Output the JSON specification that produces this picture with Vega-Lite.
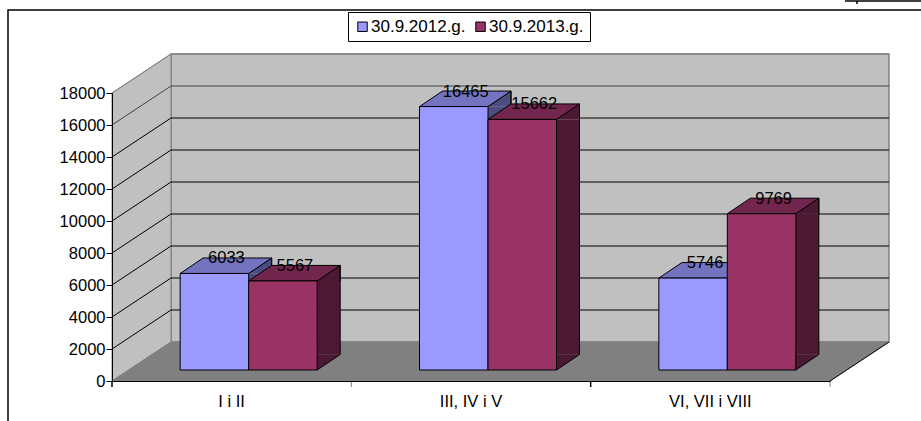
{
"$schema":"https://vega.github.io/schema/vega-lite/v6.json",
"width":718,"height":288,
"autosize":{"type":"none"},
"padding":{"left":112,"top":93,"right":91,"bottom":40},
"background":"#ffffff",
"config":{"view":{"stroke":null},"font":"Liberation Sans"},
"resolve":{"scale":{"xOffset":"independent"},"axis":{"y":"independent"}},
"datasets":{
"bars":[
{"category":"I i II","series":"30.9.2012.g.","value":6033},
{"category":"I i II","series":"30.9.2013.g.","value":5567},
{"category":"III, IV i V","series":"30.9.2012.g.","value":16465},
{"category":"III, IV i V","series":"30.9.2013.g.","value":15662},
{"category":"VI, VII i VIII","series":"30.9.2012.g.","value":5746},
{"category":"VI, VII i VIII","series":"30.9.2013.g.","value":9769}],
"ticks":[{"tick":0},{"tick":2000},{"tick":4000},{"tick":6000},{"tick":8000},{"tick":10000},{"tick":12000},{"tick":14000},{"tick":16000},{"tick":18000}],
"base":[{"value":0}]
},
"layer":[
{"data":{"name":"base"},"mark":{"type":"point","size":4,"opacity":1,"filled":true,"fill":"#c0c0c0","stroke":"#808080","strokeWidth":1.5,"shape":"M59,-39 L777,-39 L777,-327 L59,-327 Z"},
 "encoding":{"x":{"value":0},"y":{"field":"value","type":"quantitative","title":null,"scale":{"domain":[0,18000],"nice":false},
   "axis":{"zindex":1,"values":[0,2000,4000,6000,8000,10000,12000,14000,16000,18000],"format":"d","grid":false,"labelOverlap":false,"labelBound":false,"labelFlush":false,"labelFontSize":16.5,"labelColor":"#000000","labelPadding":1,"domainColor":"#000000","tickColor":"#000000","tickSize":6}}}},
{"data":{"name":"base"},"mark":{"type":"point","size":4,"opacity":1,"filled":true,"fill":"#c0c0c0","stroke":"#808080","strokeWidth":1,"shape":"M0,0 L59,-39 L59,-327 L0,-288 Z"},
 "encoding":{"x":{"value":0},"y":{"field":"value","type":"quantitative","axis":null}}},
{"data":{"name":"base"},"mark":{"type":"point","size":4,"opacity":1,"filled":true,"fill":"#808080","stroke":"#808080","strokeWidth":1,"shape":"M0,0 L59,-39 L777,-39 L718,0 Z"},
 "encoding":{"x":{"value":0},"y":{"field":"value","type":"quantitative","axis":null}}},
{"data":{"name":"base"},"mark":{"type":"point","size":4,"opacity":1,"filled":false,"stroke":"#000000","strokeWidth":1,"shape":"M718,0 L777,-39"},
 "encoding":{"x":{"value":0},"y":{"field":"value","type":"quantitative","axis":null}}},
{"data":{"name":"base"},"mark":{"type":"point","size":4,"opacity":1,"filled":false,"stroke":"#000000","strokeWidth":1.5,"shape":"M-104,40 L-104,-371 L809,-371 M733,-380 L809,-380 M745,-380 L745,-377 M0,0 L0,6 M478.67,0 L478.67,6"},
 "encoding":{"x":{"value":0},"y":{"field":"value","type":"quantitative","axis":null}}},
{"data":{"name":"base"},"mark":{"type":"point","size":4,"opacity":1,"filled":false,"stroke":"#808080","strokeWidth":1,"shape":"M718,0 L718,6 M239.33,0 L239.33,6"},
 "encoding":{"x":{"value":0},"y":{"field":"value","type":"quantitative","axis":null}}},
{"data":{"name":"ticks"},"transform":[{"filter":"datum.tick > 0"}],"mark":{"type":"point","size":4,"opacity":1,"filled":false,"strokeWidth":1,"shape":"M0,0 L59,-39 L777,-39"},
 "encoding":{"x":{"value":0},"y":{"field":"tick","type":"quantitative","axis":null},
  "stroke":{"condition":[{"test":"datum.tick==18000","value":"#808080"},{"test":"datum.tick==16000","value":"#404040"}],"value":"#000000"}}},
{"data":{"name":"bars"},"mark":{"type":"bar","size":23,"yOffset":-11,"y2Offset":-26.5,"stroke":null},
 "encoding":{"x":{"field":"category","type":"nominal","sort":null,"title":null,
   "scale":{"paddingInner":0.4276,"paddingOuter":0.2138},
   "axis":{"zindex":1,"labelAngle":0,"labelAlign":"center","labelBaseline":"top","labelFontSize":16.5,"labelColor":"#000000","labelPadding":12,"domainColor":"#000000","ticks":false}},
  "xOffset":{"field":"series","scale":{"range":[62.75,199.75]}},"y":{"field":"value","type":"quantitative","axis":null},"y2":{"datum":0},
  "fill":{"condition":{"test":"datum.series==='30.9.2012.g.'","value":"#4c4c7f"},"value":"#4c1933"}}},
{"data":{"name":"bars"},"mark":{"type":"point","size":4,"opacity":1,"filled":true,"stroke":"#000000","strokeWidth":1,"yOffset":-11,"shape":"M34.25,0 L57.25,-15.5 L57.25,0"},
 "encoding":{"x":{"field":"category","type":"nominal"},"xOffset":{"field":"series","scale":{"range":[17,154]}},"y":{"field":"value","type":"quantitative","axis":null},
  "fill":{"condition":{"test":"datum.series==='30.9.2012.g.'","value":"#4c4c7f"},"value":"#4c1933"}}},
{"data":{"name":"bars"},"mark":{"type":"point","size":4,"opacity":1,"filled":true,"stroke":"#000000","strokeWidth":1,"yOffset":-11,"shape":"M57.25,-15.5 L34.25,0 L34.25,-15.5"},
 "encoding":{"x":{"field":"category","type":"nominal"},"xOffset":{"field":"series","scale":{"range":[17,154]}},"y":{"datum":0,"axis":null},
  "fill":{"condition":{"test":"datum.series==='30.9.2012.g.'","value":"#4c4c7f"},"value":"#4c1933"}}},
{"data":{"name":"bars"},"mark":{"type":"rule","stroke":"#000000","strokeWidth":1,"yOffset":-26.5,"y2Offset":-26.5},
 "encoding":{"x":{"field":"category","type":"nominal"},"xOffset":{"field":"series","scale":{"range":[74.25,211.25]}},"y":{"field":"value","type":"quantitative","axis":null},"y2":{"datum":0}}},
{"data":{"name":"bars"},"mark":{"type":"point","size":4,"opacity":1,"filled":true,"stroke":"#000000","strokeWidth":1,"yOffset":-11,"shape":"M-34.25,0 L34.25,0 L57.25,-15.5 L-11.25,-15.5 Z"},
 "encoding":{"x":{"field":"category","type":"nominal"},"xOffset":{"field":"series","scale":{"range":[17,154]}},"y":{"field":"value","type":"quantitative","axis":null},
  "fill":{"condition":{"test":"datum.series==='30.9.2012.g.'","value":"#7373bf"},"value":"#73264d"}}},
{"data":{"name":"bars"},"mark":{"type":"bar","stroke":"#000000","strokeWidth":1,"yOffset":-11,"y2Offset":-11},
 "encoding":{
  "x":{"field":"category","type":"nominal"},
  "xOffset":{"field":"series","scale":{"range":[17,154]}},
  "y":{"field":"value","type":"quantitative","axis":null},
  "y2":{"datum":0},
  "fill":{"field":"series","type":"nominal","scale":{"domain":["30.9.2012.g.","30.9.2013.g."],"range":["#9999ff","#993366"]},
   "legend":{"title":null,"orient":"none","legendX":236,"legendY":-81,"direction":"horizontal","columns":2,"symbolType":"square","symbolSize":90,"symbolStrokeColor":"#000000","symbolStrokeWidth":1,"symbolOpacity":1,"labelFontSize":17,"labelColor":"#000000","labelOffset":0,"columnPadding":6,"padding":6,"strokeColor":"#000000","fillColor":"#ffffff"}}}},
{"data":{"name":"bars"},"mark":{"type":"text","fontSize":16.5,"color":"#000000","dx":12,"dy":-26,"baseline":"middle","align":"center"},
 "encoding":{"x":{"field":"category","type":"nominal"},"xOffset":{"field":"series","scale":{"range":[17,154]}},"y":{"field":"value","type":"quantitative","axis":null},"text":{"field":"value","type":"quantitative","format":"d"}}}
]
}
